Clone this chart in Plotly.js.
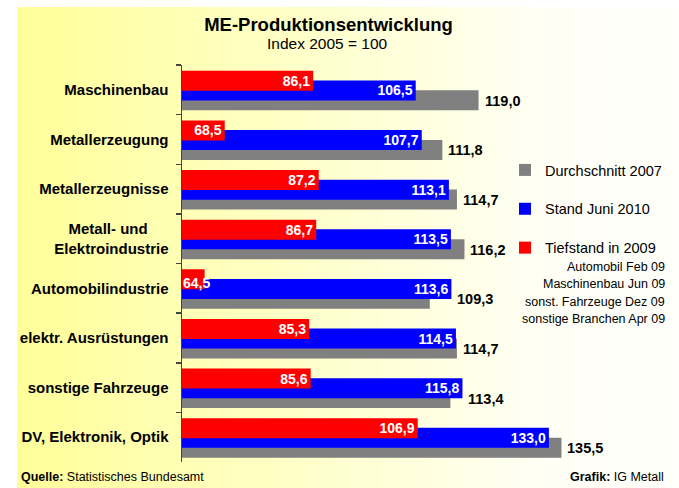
<!DOCTYPE html>
<html>
<head>
<meta charset="utf-8">
<script src="https://cdn.plot.ly/plotly-3.0.1.min.js"></script>
<style>
  html, body { margin: 0; padding: 0; background: #ffffff; }
  #wrap { position: relative; width: 679px; height: 488px; }
  #bg { position: absolute; left: 17px; top: 7px; width: 662px; height: 481px;
        background: linear-gradient(to right, #FFFF99 0%, #FFFFCC 45%, #FFFFF6 80%, #FFFFFB 100%); }
  #chart { position: absolute; left: 0; top: 0; width: 679px; height: 488px; }
</style>
</head>
<body>
<div id="wrap"><div id="bg"></div><div id="chart"></div></div>
<script>
// ---- data ----
const categories = [
  'Maschinenbau',
  'Metallerzeugung',
  'Metallerzeugnisse',
  'Metall- und\u00A0\u00A0\u00A0\u00A0\u00A0<br>Elektroindustrie',
  'Automobilindustrie',
  'elektr. Ausrüstungen',
  'sonstige Fahrzeuge',
  'DV, Elektronik, Optik'
];
const durchschnitt2007 = [119.0, 111.8, 114.7, 116.2, 109.3, 114.7, 113.4, 135.5];
const standJuni2010    = [106.5, 107.7, 113.1, 113.5, 113.6, 114.5, 115.8, 133.0];
const tiefstand2009    = [86.1, 68.5, 87.2, 86.7, 64.5, 85.3, 85.6, 106.9];
const seriesNames = ['Durchschnitt 2007', 'Stand Juni 2010', 'Tiefstand in 2009'];
const notes = ['Automobil Feb 09', 'Maschinenbau Jun 09', 'sonst. Fahrzeuge Dez 09', 'sonstige Branchen Apr 09'];

// ---- layout helpers (pixel -> paper) ----
const PL = 182, PR = 660, PT = 65, PB = 462;
const X0 = 60, PXU = 5.023;           // axis start value, pixels per unit
const px = x => (x - PL) / (PR - PL);
const py = y => (PB - y) / (PB - PT);
const FONT = 'Liberation Sans, Arial, sans-serif';
const BW = 0.403;
const fmt = v => v.toFixed(1).replace('.', ',');

const whiteFont = { family: FONT, size: 14, color: '#ffffff', weight: 'bold' };
const blackFont = { family: FONT, size: 14.5, color: '#000000', weight: 'bold' };

function barTrace(vals, name, color, offset, textpos, group) {
  return {
    type: 'bar', orientation: 'h',
    x: vals, y: categories, name: name,
    marker: { color: color, line: { width: 0 } },
    width: BW, offset: offset,
    texttemplate: '%{x:.1f}', textposition: textpos,
    insidetextanchor: 'end', textangle: 0, constraintext: 'none',
    textfont: whiteFont, insidetextfont: whiteFont, outsidetextfont: whiteFont,
    cliponaxis: false, legendgroup: group, hoverinfo: 'skip'
  };
}

// red labels that do not fit inside their bar are drawn as annotations instead
const redFits = tiefstand2009.map(v => (v - X0) * PXU > 34);

const data = [
  barTrace(durchschnitt2007, seriesNames[0], '#808080', 0.01, 'none', 'g1'),
  barTrace(standJuni2010, seriesNames[1], '#0000FF', -0.19, 'inside', 'g2'),
  barTrace(tiefstand2009, seriesNames[2], '#FF0000', -0.383, redFits.map(f => f ? 'inside' : 'none'), 'g3')
];

const annotations = [];
// gray value labels: right of the longer of gray / blue bar
durchschnitt2007.forEach((v, i) => {
  annotations.push({
    text: fmt(v), xref: 'x', yref: 'y', x: Math.max(v, standJuni2010[i]), y: categories[i],
    xanchor: 'left', yanchor: 'middle', xshift: 4, yshift: -11, showarrow: false,
    font: blackFont
  });
});
// red labels that overflow their short bar
tiefstand2009.forEach((v, i) => {
  if (!redFits[i]) {
    annotations.push({
      text: fmt(v), xref: 'x', yref: 'y', x: v, y: categories[i],
      xanchor: 'right', yanchor: 'middle', xshift: 7, yshift: 5.5, showarrow: false,
      font: whiteFont
    });
  }
});

const noteY = [267, 284, 302, 319];
notes.forEach((t, i) => annotations.push({
  text: t, xref: 'paper', yref: 'paper', x: px(667), y: py(noteY[i]),
  xanchor: 'right', yanchor: 'middle', showarrow: false,
  font: { family: FONT, size: 12.5, color: '#000' }
}));
annotations.push({
  text: 'Index 2005 = 100', xref: 'paper', yref: 'paper', x: px(327), y: py(43),
  xanchor: 'center', yanchor: 'middle', showarrow: false,
  font: { family: FONT, size: 15.5, color: '#000' }
});
annotations.push({
  text: '<b>Quelle:</b> Statistisches Bundesamt', xref: 'paper', yref: 'paper', x: px(19), y: py(477),
  xanchor: 'left', yanchor: 'middle', showarrow: false,
  font: { family: FONT, size: 12.5, color: '#000' }
});
annotations.push({
  text: '<b>Grafik:</b> IG Metall', xref: 'paper', yref: 'paper', x: px(666), y: py(477),
  xanchor: 'right', yanchor: 'middle', showarrow: false,
  font: { family: FONT, size: 12.5, color: '#000' }
});

const layout = {
  width: 679, height: 488,
  margin: { l: PL, r: 679 - PR, t: PT, b: 488 - PB, pad: 0 },
  paper_bgcolor: 'rgba(0,0,0,0)', plot_bgcolor: 'rgba(0,0,0,0)',
  separators: ',.',
  barmode: 'overlay',
  title: { text: '<b>ME-Produktionsentwicklung</b>', x: 328.5 / 679, xanchor: 'center',
           y: 1 - 25 / 488, yanchor: 'middle',
           font: { family: FONT, size: 18.5, color: '#000' } },
  xaxis: { range: [X0, X0 + (PR - 182.3) / PXU], visible: false, showgrid: false, zeroline: false, fixedrange: true },
  yaxis: { type: 'category', range: [7.5, -0.5], showline: true, linecolor: '#444', linewidth: 1.5,
           ticks: 'outside', tickson: 'boundaries', ticklen: 5, tickcolor: '#444', tickwidth: 1.5,
           ticklabelstandoff: 9, showgrid: false, zeroline: false, fixedrange: true,
           tickfont: { family: FONT, size: 15, color: '#000', weight: 'bold' } },
  showlegend: true,
  legend: { x: px(505), y: py(154), xanchor: 'left', yanchor: 'top', bgcolor: 'rgba(0,0,0,0)',
            traceorder: 'grouped', tracegroupgap: 17, itemclick: false, itemdoubleclick: false,
            font: { family: FONT, size: 14.5, color: '#000' } },
  annotations: annotations
};

Plotly.newPlot('chart', data, layout, { staticPlot: true, displayModeBar: false });
</script>
</body>
</html>
